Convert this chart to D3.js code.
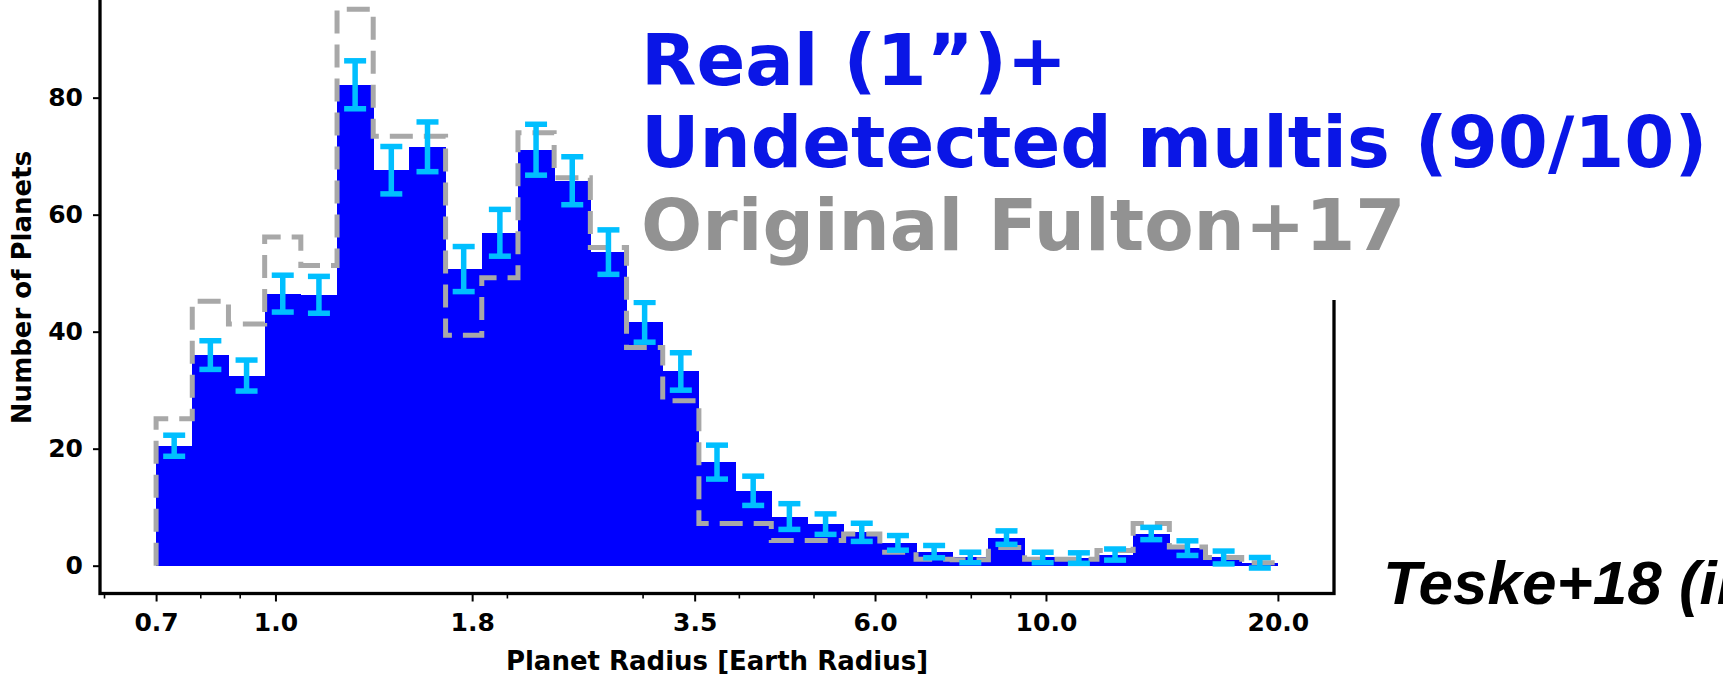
<!DOCTYPE html>
<html>
<head>
<meta charset="utf-8">
<script src="https://cdn.jsdelivr.net/npm/d3@7"></script>
<style>
  body { margin: 0; background: #ffffff; }
  svg { display: block; }
  .axis text, .axis-label { font-family: "DejaVu Sans", sans-serif; font-weight: bold; fill: #000; }
</style>
</head>
<body>
<svg id="chart" width="1723" height="677"></svg>
<script>
// Radius bins (log-uniform, 0.7 to 20 Earth radii, 31 bins)
const binEdges = [
  0.7, 0.7799, 0.8690, 0.9683, 1.0788, 1.2021, 1.3393, 1.4923, 1.6627, 1.8526,
  2.0642, 2.2999, 2.5626, 2.8553, 3.1814, 3.5447, 3.9495, 4.4006, 4.9031, 5.4631,
  6.0870, 6.7822, 7.5567, 8.4197, 9.3813, 10.4527, 11.6465, 12.9765, 14.4585,
  16.1097, 17.9495, 20.0
];

// Real (1") + undetected multis (90/10): counts per bin and their uncertainties
const realCounts = [
  20.5, 36.0, 32.5, 46.5, 46.3, 82.2, 67.6, 71.6, 50.7, 56.9,
  71.1, 65.8, 53.6, 41.6, 33.2, 17.7, 12.8, 8.4, 7.1, 5.7,
  3.9, 2.4, 1.4, 4.8, 1.4, 1.3, 1.9, 5.5, 3.0, 1.4, 0.5
];
const realErrors = [
  1.8, 2.45, 2.65, 3.15, 3.15, 4.1, 4.05, 4.25, 3.85, 4.0,
  4.35, 4.1, 3.8, 3.4, 3.2, 2.9, 2.5, 2.2, 1.75, 1.55,
  1.25, 1.05, 0.9, 1.15, 0.9, 0.9, 0.95, 1.05, 1.25, 1.1, 0.9
];

// Original Fulton+17 histogram
const fultonCounts = [
  25.1, 45.2, 41.3, 56.2, 51.3, 95.1, 73.4, 73.4, 39.4, 49.2,
  74.0, 66.3, 54.4, 37.3, 28.2, 7.2, 7.2, 4.3, 4.3, 5.4,
  2.3, 1.1, 1.0, 3.1, 1.1, 1.1, 2.6, 7.2, 3.2, 1.4, 0.5
];

const xTickValues = [0.7, 1.0, 1.8, 3.5, 6.0, 10.0, 20.0];
const xTickLabels = ["0.7", "1.0", "1.8", "3.5", "6.0", "10.0", "20.0"];
const xMinorTicks = [0.6, 0.8, 0.9, 2, 3, 4, 5, 7, 8, 9];
const yTickValues = [0, 20, 40, 60, 80];

const xAxisTitle = "Planet Radius [Earth Radius]";
const yAxisTitle = "Number of Planets";
const legendLines = [
  { text: "Real (1\u201D)+", color: "#0a16e6" },
  { text: "Undetected multis (90/10)", color: "#0a16e6" },
  { text: "Original Fulton+17", color: "#929292" }
];
const creditText = "Teske+18 (in prep.)";

// ---- layout ----
const frame = { left: 100, right: 1334, top: -18.5, bottom: 593.5 };
const svg = d3.select("#chart");

// log x-scale with 5% padding (in log space) around the bin range
const lo = Math.log10(binEdges[0]), hi = Math.log10(binEdges[binEdges.length - 1]);
const pad = 0.05 * (hi - lo);
const x = d3.scaleLog()
  .domain([Math.pow(10, lo - pad), Math.pow(10, hi + pad)])
  .range([frame.left, frame.right]);

const yMax = d3.max(fultonCounts.concat(realCounts.map((v, i) => v + realErrors[i])));
const yPad = 0.05 * yMax;
const y = d3.scaleLinear()
  .domain([-yPad, yMax + yPad])
  .range([frame.bottom, frame.top]);

const bins = realCounts.map((v, i) => ({
  x0: binEdges[i], x1: binEdges[i + 1],
  real: v, err: realErrors[i], fulton: fultonCounts[i]
}));

// filled histogram
svg.append("g")
  .selectAll("rect")
  .data(bins)
  .join("rect")
  .attr("x", d => x(d.x0))
  .attr("width", d => x(d.x1) - x(d.x0) + 0.5)
  .attr("y", d => y(d.real))
  .attr("height", d => y(0) - y(d.real))
  .attr("fill", "#0000ff")
  .attr("shape-rendering", "crispEdges");

// dashed step outline of the original histogram
const stepPts = [[binEdges[0], 0]];
bins.forEach(d => { stepPts.push([d.x0, d.fulton]); stepPts.push([d.x1, d.fulton]); });
stepPts.push([binEdges[binEdges.length - 1], 0]);
svg.append("path")
  .attr("d", d3.line().x(p => x(p[0])).y(p => y(p[1]))(stepPts))
  .attr("fill", "none")
  .attr("stroke", "#a8a8a8")
  .attr("stroke-width", 5)
  .attr("stroke-dasharray", "23 11")
  .attr("stroke-linejoin", "miter");

// error bars at the log-centre of each bin
const capHalf = 11;
const eb = svg.append("g")
  .attr("stroke", "#00bfff")
  .attr("stroke-width", 5.5)
  .selectAll("g")
  .data(bins)
  .join("g")
  .attr("transform", d => `translate(${x(Math.sqrt(d.x0 * d.x1))},0)`);
eb.append("line")
  .attr("y1", d => y(d.real - d.err)).attr("y2", d => y(d.real + d.err));
eb.append("line")
  .attr("x1", -capHalf).attr("x2", capHalf)
  .attr("y1", d => y(d.real + d.err)).attr("y2", d => y(d.real + d.err));
eb.append("line")
  .attr("x1", -capHalf).attr("x2", capHalf)
  .attr("y1", d => y(d.real - d.err)).attr("y2", d => y(d.real - d.err));

// ---- axes ----
const xAxis = svg.append("g")
  .attr("class", "axis")
  .attr("transform", `translate(0,${frame.bottom})`)
  .call(d3.axisBottom(x)
    .tickValues(xTickValues)
    .tickFormat((d, i) => xTickLabels[i])
    .tickSize(8)
    .tickPadding(12));
xAxis.select(".domain").remove();
xAxis.selectAll(".tick line").attr("stroke-width", 2);
xAxis.selectAll(".tick text").attr("font-size", 25);

svg.append("g")
  .selectAll("line")
  .data(xMinorTicks)
  .join("line")
  .attr("x1", d => x(d)).attr("x2", d => x(d))
  .attr("y1", frame.bottom).attr("y2", frame.bottom + 5)
  .attr("stroke", "#000").attr("stroke-width", 1.6);

const yAxis = svg.append("g")
  .attr("class", "axis")
  .attr("transform", `translate(${frame.left},0)`)
  .call(d3.axisLeft(y)
    .tickValues(yTickValues)
    .tickFormat(d3.format("d"))
    .tickSize(7)
    .tickPadding(10));
yAxis.select(".domain").remove();
yAxis.selectAll(".tick line").attr("stroke-width", 2);
yAxis.selectAll(".tick text").attr("font-size", 25);

// frame spines
const spine = svg.append("g").attr("stroke", "#000").attr("stroke-width", 3.3).attr("fill", "none");
spine.append("rect")
  .attr("x", frame.left).attr("y", frame.top)
  .attr("width", frame.right - frame.left)
  .attr("height", frame.bottom - frame.top);

// axis titles
svg.append("text")
  .attr("class", "axis-label")
  .attr("x", (frame.left + frame.right) / 2)
  .attr("y", 670)
  .attr("text-anchor", "middle")
  .attr("font-size", 26)
  .text(xAxisTitle);

svg.append("text")
  .attr("class", "axis-label")
  .attr("transform", `translate(30.5,${(frame.top + frame.bottom) / 2}) rotate(-90)`)
  .attr("text-anchor", "middle")
  .attr("font-size", 26)
  .text(yAxisTitle);

// legend panel on a white backing
svg.append("rect")
  .attr("x", 633).attr("y", 0)
  .attr("width", 1723 - 633).attr("height", 300)
  .attr("fill", "#ffffff");

svg.append("g")
  .selectAll("text")
  .data(legendLines)
  .join("text")
  .attr("x", 641)
  .attr("y", (d, i) => [85, 167, 250][i])
  .attr("font-family", "'DejaVu Sans', sans-serif")
  .attr("font-weight", "bold")
  .attr("font-size", 72)
  .attr("fill", d => d.color)
  .text(d => d.text);

// source note, running off the right edge of the slide
svg.append("text")
  .attr("x", 1383)
  .attr("y", 604)
  .attr("font-family", "'Liberation Sans', Arial, sans-serif")
  .attr("font-weight", "bold")
  .attr("font-style", "italic")
  .attr("font-size", 62)
  .attr("fill", "#000")
  .text(creditText);
</script>
</body>
</html>
